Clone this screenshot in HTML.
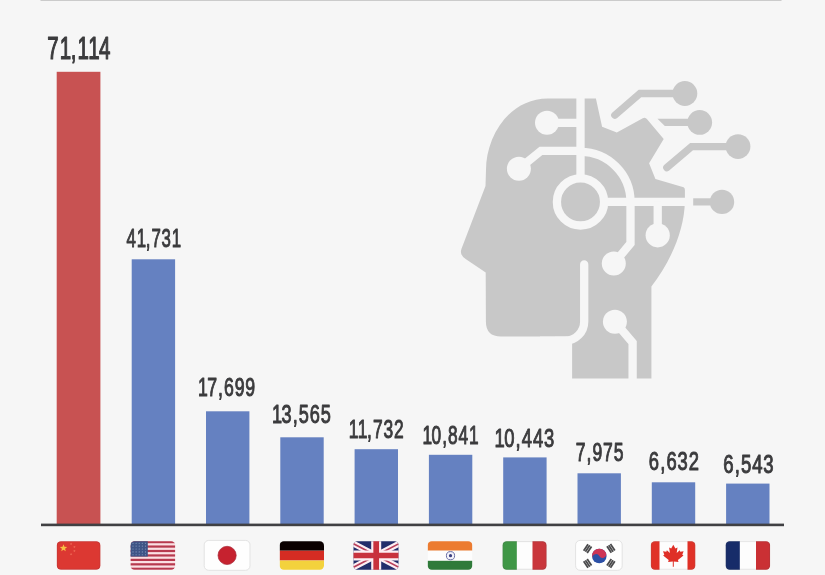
<!DOCTYPE html>
<html><head><meta charset="utf-8"><title>AI papers by country</title>
<style>
html,body{margin:0;padding:0;background:#f6f6f6;}
body{width:825px;height:575px;overflow:hidden;font-family:"Liberation Sans",sans-serif;}
svg{display:block}
text{font-family:"Liberation Sans",sans-serif;fill:#3b3b3d;stroke:#3b3b3d;stroke-linejoin:round}
</style></head><body>
<svg width="825" height="575" viewBox="0 0 825 575">
<rect width="825" height="575" fill="#f6f6f6"/>
<rect x="40.5" y="0" width="741" height="1" fill="#cbcbcb"/>

<rect x="56.7" y="71.8" width="43.7" height="452.2" fill="#c85252"/>
<text transform="scale(0.6555,1)" x="72.18 91.10 107.77 118.37 134.65 150.93" y="59.12" font-size="31.30" stroke-width="1.25">71,114</text>
<rect x="131.7" y="259.3" width="43.4" height="264.7" fill="#6581c1"/>
<text transform="scale(0.6601,1)" x="191.82 207.22 220.79 229.42 244.82 260.22" y="247.29" font-size="25.48" stroke-width="1.02">41,731</text>
<rect x="206.0" y="411.3" width="43.4" height="112.7" fill="#6581c1"/>
<text transform="scale(0.6823,1)" x="290.13 303.60 319.57 328.34 343.99 359.63" y="396.48" font-size="25.89" stroke-width="1.04">17,699</text>
<rect x="280.3" y="437.3" width="43.4" height="86.7" fill="#6581c1"/>
<text transform="scale(0.6970,1)" x="390.28 403.81 419.87 428.68 444.41 460.14" y="422.58" font-size="26.03" stroke-width="1.04">13,565</text>
<rect x="354.6" y="449.2" width="43.4" height="74.8" fill="#6581c1"/>
<text transform="scale(0.6726,1)" x="518.45 531.91 545.70 554.47 570.12 585.76" y="438.18" font-size="25.89" stroke-width="1.04">11,732</text>
<rect x="428.9" y="454.8" width="43.4" height="69.2" fill="#6581c1"/>
<text transform="scale(0.6671,1)" x="633.38 646.84 662.81 671.59 687.23 702.88" y="443.88" font-size="25.89" stroke-width="1.04">10,841</text>
<rect x="503.2" y="457.4" width="43.4" height="66.6" fill="#6581c1"/>
<text transform="scale(0.7033,1)" x="703.29 716.89 733.03 741.90 757.71 773.52" y="447.28" font-size="26.16" stroke-width="1.05">10,443</text>
<rect x="577.5" y="473.3" width="43.4" height="50.7" fill="#6581c1"/>
<text transform="scale(0.6953,1)" x="828.08 843.62 852.17 867.40 882.63" y="460.90" font-size="25.21" stroke-width="1.01">7,975</text>
<rect x="651.8" y="482.3" width="43.4" height="41.7" fill="#6581c1"/>
<text transform="scale(0.7024,1)" x="923.78 939.92 948.79 964.60 980.41" y="469.88" font-size="26.16" stroke-width="1.05">6,632</text>
<rect x="726.1" y="483.6" width="43.4" height="40.4" fill="#6581c1"/>
<text transform="scale(0.7090,1)" x="1020.05 1036.19 1045.06 1060.87 1076.69" y="472.78" font-size="26.16" stroke-width="1.05">6,543</text>
<rect x="41" y="523.6" width="743" height="2.6" fill="#404043"/>
<g id="ai-head">
<path fill="#c8c8c8" d="M548,98.4 L595.9,98.4 L602.1,126.8 L616.8,132.6 L642.8,118.2 Q645.5,117 647.3,119.4 L663.7,138.9 L649.1,163.3 L655.4,179 L683.6,187.3 Q684.9,187.8 684.9,190 L684.9,201 C684.5,230 671,261 651.4,286.5 L651.4,378.5 L572.1,378.5 L572.1,336.4 L501,336.4 Q485.9,336.4 485.9,321.4 L485.7,272.5 L466,259.3 Q459,254.8 461.6,248.5 L485.5,186 L486,170 C486,138 508,98.4 548,98.4 Z"/>
<g fill="none" stroke="#f6f6f6" stroke-width="8.3">
<path d="M580.5,95 L580.5,180"/>
<circle cx="580.5" cy="201.9" r="23.6"/>
<path d="M547,122.8 L580.5,122.8"/>
<path d="M518.9,168.7 L541,150.8 L580.5,150.8"/>
<path d="M580.5,151.9 A50,50 0 0 1 630.5,201.9 L630.5,243.5 L613.8,263.5"/>
<path d="M604,201.9 L692,201.9"/>
<path d="M657.7,201.9 L657.7,235.3"/>
<path d="M584.2,264.5 L584.2,321.4 A19.4,19.4 0 0 1 564.8,340.8 L556,340.8" stroke-linecap="round"/>
<path d="M614.9,321.8 L632.6,342.6 L632.6,381"/>
</g>
<g fill="#f6f6f6">
<circle cx="547" cy="122.8" r="12"/>
<circle cx="518.9" cy="168.7" r="12"/>
<circle cx="613.8" cy="263.5" r="12"/>
<circle cx="657.7" cy="235.3" r="12.1"/>
<circle cx="614.9" cy="321.8" r="12"/>
<rect x="540" y="336.6" width="32" height="45"/>
</g>
<g fill="none" stroke="#c8c8c8" stroke-width="7.3" stroke-linecap="round">
<path d="M684.9,93.5 L640,93.5 L614.8,115.2"/>
<path d="M738,146.6 L691.5,146.6 L666.8,167.6"/>
</g>
<g fill="#c8c8c8">
<circle cx="684.9" cy="93.5" r="12.4"/>
<circle cx="699.7" cy="122.4" r="12.4"/>
<circle cx="738" cy="146.6" r="12.4"/>
<circle cx="722" cy="201.9" r="12.2"/>
<path d="M699.7,118.7 L657.5,118.7 L664.8,126 L699.7,126 Z"/>
<rect x="693.2" y="198.3" width="29" height="7.2"/>
</g>
</g>

<g id="flags">
<defs>
<clipPath id="fc0"><rect x="56.7" y="541.2" width="43.8" height="28.5" rx="4.2" ry="4.2"/></clipPath>
<clipPath id="fc1"><rect x="130.4" y="541.2" width="44.9" height="28.5" rx="4.2" ry="4.2"/></clipPath>
<clipPath id="fc2"><rect x="204.2" y="540.4" width="45.8" height="29.9" rx="4.5" ry="4.5"/></clipPath>
<clipPath id="fc3"><rect x="279.6" y="541.2" width="44.4" height="28.5" rx="4.2" ry="4.2"/></clipPath>
<clipPath id="fc4"><rect x="353.3" y="541.2" width="45.4" height="28.5" rx="4.2" ry="4.2"/></clipPath>
<clipPath id="fc5"><rect x="427.6" y="541.2" width="44.8" height="28.5" rx="4.2" ry="4.2"/></clipPath>
<clipPath id="fc6"><rect x="502.4" y="541.2" width="44.3" height="28.5" rx="4.2" ry="4.2"/></clipPath>
<clipPath id="fc7"><rect x="575.6" y="540.4" width="46.6" height="29.9" rx="4.5" ry="4.5"/></clipPath>
<clipPath id="fc8"><rect x="650.7" y="541.2" width="44.8" height="28.5" rx="4.2" ry="4.2"/></clipPath>
<clipPath id="fc9"><rect x="725.5" y="541.2" width="44.7" height="28.5" rx="4.2" ry="4.2"/></clipPath>
<linearGradient id="gsh" x1="0" y1="0" x2="0" y2="1"><stop offset="0" stop-color="#000" stop-opacity="0"/><stop offset="1" stop-color="#000" stop-opacity="0.06"/></linearGradient>
</defs>
<g clip-path="url(#fc0)"><rect x="56.7" y="541.2" width="43.8" height="28.5" fill="#dc3832"/>
<polygon points="63.50,544.30 64.46,546.87 67.21,546.99 65.06,548.71 65.79,551.36 63.50,549.84 61.21,551.36 61.94,548.71 59.79,546.99 62.54,546.87" fill="#f7c044"/>
<polygon points="71.10,542.60 71.42,543.46 72.34,543.50 71.62,544.07 71.86,544.95 71.10,544.45 70.34,544.95 70.58,544.07 69.86,543.50 70.78,543.46" fill="#f0705a"/>
<polygon points="74.40,545.70 74.72,546.56 75.64,546.60 74.92,547.17 75.16,548.05 74.40,547.55 73.64,548.05 73.88,547.17 73.16,546.60 74.08,546.56" fill="#f0705a"/>
<polygon points="74.40,549.70 74.72,550.56 75.64,550.60 74.92,551.17 75.16,552.05 74.40,551.55 73.64,552.05 73.88,551.17 73.16,550.60 74.08,550.56" fill="#f0705a"/>
<polygon points="71.10,553.00 71.42,553.86 72.34,553.90 71.62,554.47 71.86,555.35 71.10,554.85 70.34,555.35 70.58,554.47 69.86,553.90 70.78,553.86" fill="#f0705a"/>
<rect x="57.1" y="541.6" width="43.0" height="27.7" rx="4" fill="none" stroke="#b8383c" stroke-width="0.8" opacity="0.7"/></g>
<g clip-path="url(#fc1)"><rect x="130.4" y="540" width="44.9" height="32" fill="#fbe0e3"/>
<rect x="130.4" y="541.00" width="44.9" height="2.22" fill="#b73a4e"/>
<rect x="130.4" y="545.45" width="44.9" height="2.22" fill="#b73a4e"/>
<rect x="130.4" y="549.89" width="44.9" height="2.22" fill="#b73a4e"/>
<rect x="130.4" y="554.34" width="44.9" height="2.22" fill="#b73a4e"/>
<rect x="130.4" y="558.78" width="44.9" height="2.22" fill="#b73a4e"/>
<rect x="130.4" y="563.23" width="44.9" height="2.22" fill="#b73a4e"/>
<rect x="130.4" y="567.68" width="44.9" height="2.22" fill="#b73a4e"/>
<rect x="130.4" y="540" width="17.4" height="16.56" fill="#3f5486"/>
<circle cx="133.0" cy="543.2" r="0.55" fill="#8fa0c4"/>
<circle cx="136.1" cy="543.2" r="0.55" fill="#8fa0c4"/>
<circle cx="139.2" cy="543.2" r="0.55" fill="#8fa0c4"/>
<circle cx="142.3" cy="543.2" r="0.55" fill="#8fa0c4"/>
<circle cx="145.4" cy="543.2" r="0.55" fill="#8fa0c4"/>
<circle cx="133.0" cy="546.1" r="0.55" fill="#8fa0c4"/>
<circle cx="136.1" cy="546.1" r="0.55" fill="#8fa0c4"/>
<circle cx="139.2" cy="546.1" r="0.55" fill="#8fa0c4"/>
<circle cx="142.3" cy="546.1" r="0.55" fill="#8fa0c4"/>
<circle cx="145.4" cy="546.1" r="0.55" fill="#8fa0c4"/>
<circle cx="133.0" cy="549.0" r="0.55" fill="#8fa0c4"/>
<circle cx="136.1" cy="549.0" r="0.55" fill="#8fa0c4"/>
<circle cx="139.2" cy="549.0" r="0.55" fill="#8fa0c4"/>
<circle cx="142.3" cy="549.0" r="0.55" fill="#8fa0c4"/>
<circle cx="145.4" cy="549.0" r="0.55" fill="#8fa0c4"/>
<circle cx="133.0" cy="551.9" r="0.55" fill="#8fa0c4"/>
<circle cx="136.1" cy="551.9" r="0.55" fill="#8fa0c4"/>
<circle cx="139.2" cy="551.9" r="0.55" fill="#8fa0c4"/>
<circle cx="142.3" cy="551.9" r="0.55" fill="#8fa0c4"/>
<circle cx="145.4" cy="551.9" r="0.55" fill="#8fa0c4"/>
<circle cx="133.0" cy="554.8" r="0.55" fill="#8fa0c4"/>
<circle cx="136.1" cy="554.8" r="0.55" fill="#8fa0c4"/>
<circle cx="139.2" cy="554.8" r="0.55" fill="#8fa0c4"/>
<circle cx="142.3" cy="554.8" r="0.55" fill="#8fa0c4"/>
<circle cx="145.4" cy="554.8" r="0.55" fill="#8fa0c4"/>
</g>
<g><rect x="204.2" y="540.4" width="45.8" height="29.9" rx="4.5" fill="#fefefe" stroke="#e3e3e3" stroke-width="1"/>
<circle cx="227.1" cy="555.4" r="9.1" fill="#c6222f" stroke="#a82a3a" stroke-width="0.7"/></g>
<g clip-path="url(#fc3)"><rect x="279.6" y="541" width="44.4" height="9.7" fill="#0b0000"/><rect x="279.6" y="550.7" width="44.4" height="9.8" fill="#d52c23"/><rect x="279.6" y="560.5" width="44.4" height="10" fill="#f3d23d"/></g>
<g clip-path="url(#fc4)"><rect x="353.3" y="541" width="45.4" height="29" fill="#232e6b"/>
<path d="M350.2,541.98 L402.2,569.02 M402.2,541.98 L350.2,569.02" stroke="#fdeef2" stroke-width="6" fill="none"/>
<path d="M350.2,541.98 L402.2,569.02 M402.2,541.98 L350.2,569.02" stroke="#b8405a" stroke-width="1.7" fill="none"/>
<path d="M376.2,541 L376.2,570 M353.3,555.5 L398.7,555.5" stroke="#fdeef2" stroke-width="10" fill="none"/>
<path d="M376.2,541 L376.2,570 M353.3,555.5 L398.7,555.5" stroke="#c8323d" stroke-width="5.7" fill="none"/></g>
<g clip-path="url(#fc5)"><rect x="427.6" y="541" width="44.8" height="9.7" fill="#ec7b30"/><rect x="427.6" y="550.7" width="44.8" height="10.1" fill="#fdfdfd"/><rect x="427.6" y="560.8" width="44.8" height="10" fill="#2f7a3a"/>
<circle cx="450.5" cy="555.7" r="4.1" fill="#f4f4fb" stroke="#6a6fa6" stroke-width="1"/><circle cx="450.5" cy="555.7" r="1.6" fill="#3a3f80"/></g>
<g clip-path="url(#fc6)"><rect x="502.4" y="541" width="14.5" height="29" fill="#3f9746"/><rect x="516.9" y="541" width="15.6" height="29" fill="#fdfdfd"/><rect x="532.5" y="541" width="14.2" height="29" fill="#c9363c"/>
<rect x="502.79999999999995" y="541.6" width="43.5" height="27.7" rx="4" fill="none" stroke="#555" stroke-width="0.8" opacity="0.25"/></g>
<g><rect x="575.6" y="540.4" width="46.6" height="29.9" rx="4.5" fill="#fefefe" stroke="#e3e3e3" stroke-width="1"/>
<circle cx="599.3" cy="556.0" r="7.3" fill="#2c50a6"/>
<path transform="rotate(-28 599.3 556.0)" d="M592.0,556.0 A7.3,7.3 0 0 1 606.5999999999999,556.0 A3.65,3.65 0 0 1 599.3,556.0 A3.65,3.65 0 0 0 592.0,556.0 Z" fill="#cd3456"/>
<g transform="rotate(-56 587.6 548.6)" fill="#4a4a4c">
<rect x="583.7" y="545.60" width="7.8" height="1.8"/>
<rect x="583.7" y="547.70" width="7.8" height="1.8"/>
<rect x="583.7" y="549.80" width="7.8" height="1.8"/>
</g>
<g transform="rotate(56 610.9 548.4)" fill="#4a4a4c">
<rect x="607.0" y="545.40" width="7.8" height="1.8"/>
<rect x="607.0" y="547.50" width="7.8" height="1.8"/>
<rect x="607.0" y="549.60" width="7.8" height="1.8"/>
</g>
<g transform="rotate(56 587.6 563.4)" fill="#4a4a4c">
<rect x="583.7" y="560.40" width="7.8" height="1.8"/>
<rect x="583.7" y="562.50" width="7.8" height="1.8"/>
<rect x="583.7" y="564.60" width="7.8" height="1.8"/>
</g>
<g transform="rotate(-56 610.9 563.4)" fill="#4a4a4c">
<rect x="607.0" y="560.40" width="7.8" height="1.8"/>
<rect x="607.0" y="562.50" width="7.8" height="1.8"/>
<rect x="607.0" y="564.60" width="7.8" height="1.8"/>
</g>
</g>
<g clip-path="url(#fc8)"><rect x="650.7" y="541" width="44.8" height="29" fill="#fdfdfd"/><rect x="650.7" y="541" width="8.8" height="29" fill="#e03127"/><rect x="687.5" y="541" width="8.0" height="29" fill="#e03127"/>
<path transform="translate(673.3 554.6)" d="M0,-9.8 L2.1,-6.2 L4.2,-7.2 L3.4,-1.6 L6.4,-4.4 L7.0,-2.8 L10.3,-3.4 L9.0,0.2 L10.2,1.0 L4.6,5.4 L5.2,7.4 L0.5,6.8 L0.5,12.2 L-0.5,12.2 L-0.5,6.8 L-5.2,7.4 L-4.6,5.4 L-10.2,1.0 L-9.0,0.2 L-10.3,-3.4 L-7.0,-2.8 L-6.4,-4.4 L-3.4,-1.6 L-4.2,-7.2 L-2.1,-6.2 Z" fill="#df2f27"/>
<rect x="651.1" y="541.6" width="44.0" height="27.7" rx="4" fill="none" stroke="#777" stroke-width="0.8" opacity="0.25"/></g>
<g clip-path="url(#fc9)"><rect x="725.5" y="541" width="14.4" height="29" fill="#172c69"/><rect x="739.9" y="541" width="16.1" height="29" fill="#fdfdfd"/><rect x="756" y="541" width="14.2" height="29" fill="#ca3034"/>
<rect x="725.9" y="541.6" width="43.9" height="27.7" rx="4" fill="none" stroke="#555" stroke-width="0.8" opacity="0.2"/></g>
</g>
</svg></body></html>
